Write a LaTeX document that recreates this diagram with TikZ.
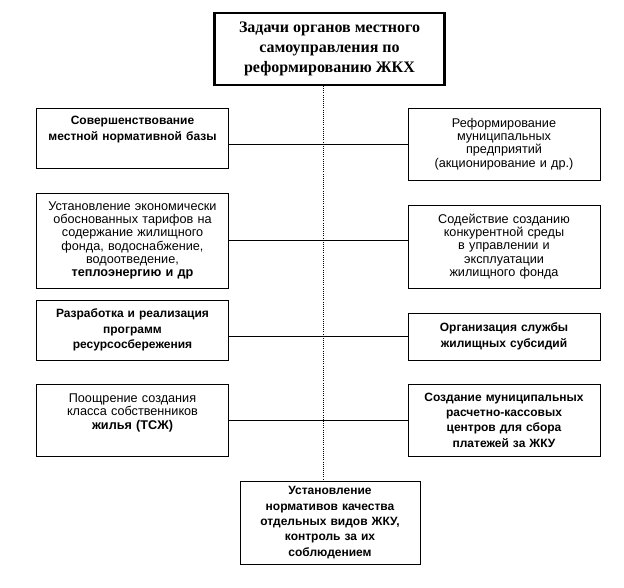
\documentclass[tikz,border=0pt]{standalone}
\usepackage{fontspec}
\setmainfont{Liberation Sans}
\newfontfamily\timesfont{Liberation Serif}

\begin{document}
\begin{tikzpicture}[x=0.75pt,y=-0.75pt]
\tikzstyle{every node}+=[inner sep=2pt]
\tikzstyle{box}=[draw=black,line width=0.6pt,align=center,text width=138pt,minimum width=144pt,font=\fontsize{9.5}{10}\selectfont]
\tikzstyle{boldbox}=[box,font=\fontsize{9}{11.5}\selectfont\bfseries]
\useasboundingbox (0,0) rectangle (624,588);
\node [draw=black,line width=1.6pt,align=center,minimum width=172.5pt,minimum height=54pt,font=\timesfont\fontsize{12}{15}\selectfont\bfseries] (top) at (329.5,49) {Задачи органов местного\\самоуправления по\\реформированию ЖКХ};
% left column
\node [boldbox,minimum height=45pt] (l1) at (132.5,138) {Совершенствование\\местной нормативной базы\\[3pt]\mbox{}};
\node [box,minimum height=71.25pt] (l2) at (132.5,240.5) {Установление экономически\\обоснованных тарифов на\\содержание жилищного\\фонда, водоснабжение,\\водоотведение,\\\textbf{теплоэнергию и др}};
\node [boldbox,minimum height=45pt] (l3) at (132.5,330) {Разработка и реализация\\программ\\ресурсосбережения};
\node [box,minimum height=54pt] (l4) at (132.5,420) {Поощрение создания\\класса собственников\\\textbf{жилья (ТСЖ)}\\[3pt]\mbox{}};
% right column
\node [box,minimum height=54pt] (r1) at (504,144) {Реформирование\\муниципальных\\предприятий\\(акционирование и др.)};
\node [box,minimum height=62.25pt] (r2) at (504,246.5) {Содействие созданию\\конкурентной среды\\в управлении и\\эксплуатации\\жилищного фонда};
\node [boldbox,minimum height=35.25pt] (r3) at (504,336.5) {Организация службы\\жилищных субсидий};
\node [boldbox,minimum height=54pt] (r4) at (504,420) {Создание муниципальных\\расчетно-кассовых\\центров для сбора\\платежей за ЖКУ};
% bottom
\node [boldbox,text width=130pt,minimum width=135pt,minimum height=62.25pt] (bot) at (330,522.5) {Установление\\нормативов качества\\отдельных видов ЖКУ,\\контроль за их\\соблюдением};
% spine and branches
\coordinate (spine) at (323,0);
\draw [densely dotted,line width=0.6pt] (top.south -| spine) -- (bot.north -| spine);
\draw [line width=0.6pt] (r1.west -| l1.east) -- (r1.west);
\draw [line width=0.6pt] (l2.east) -- (l2.east -| r2.west);
\draw [line width=0.6pt] (r3.west -| l3.east) -- (r3.west);
\draw [line width=0.6pt] (l4.east) -- (r4.west);
\end{tikzpicture}
\end{document}
